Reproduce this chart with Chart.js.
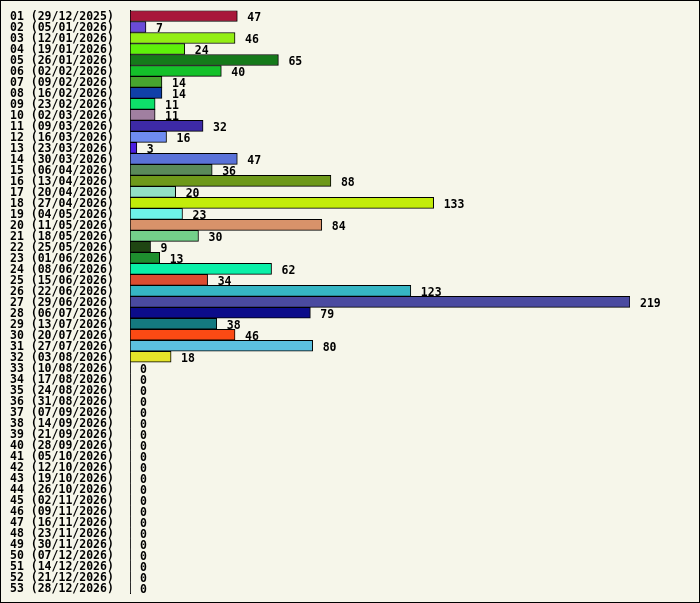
<!DOCTYPE html>
<html>
<head>
<meta charset="utf-8">
<script src="https://cdn.jsdelivr.net/npm/chart.js@4/dist/chart.umd.min.js"></script>
<style>
html,body{margin:0;padding:0;background:#f6f6ea;}
#c{display:block;}
</style>
</head>
<body>
<canvas id="c" width="700" height="603"></canvas>
<script>
const weekLabels = [
"01 (29/12/2025)","02 (05/01/2026)","03 (12/01/2026)","04 (19/01/2026)","05 (26/01/2026)",
"06 (02/02/2026)","07 (09/02/2026)","08 (16/02/2026)","09 (23/02/2026)","10 (02/03/2026)",
"11 (09/03/2026)","12 (16/03/2026)","13 (23/03/2026)","14 (30/03/2026)","15 (06/04/2026)",
"16 (13/04/2026)","17 (20/04/2026)","18 (27/04/2026)","19 (04/05/2026)","20 (11/05/2026)",
"21 (18/05/2026)","22 (25/05/2026)","23 (01/06/2026)","24 (08/06/2026)","25 (15/06/2026)",
"26 (22/06/2026)","27 (29/06/2026)","28 (06/07/2026)","29 (13/07/2026)","30 (20/07/2026)",
"31 (27/07/2026)","32 (03/08/2026)","33 (10/08/2026)","34 (17/08/2026)","35 (24/08/2026)",
"36 (31/08/2026)","37 (07/09/2026)","38 (14/09/2026)","39 (21/09/2026)","40 (28/09/2026)",
"41 (05/10/2026)","42 (12/10/2026)","43 (19/10/2026)","44 (26/10/2026)","45 (02/11/2026)",
"46 (09/11/2026)","47 (16/11/2026)","48 (23/11/2026)","49 (30/11/2026)","50 (07/12/2026)",
"51 (14/12/2026)","52 (21/12/2026)","53 (28/12/2026)"
];
const weekValues = [
47,7,46,24,65,40,14,14,11,11,
32,16,3,47,36,88,20,133,23,84,
30,9,13,62,34,123,219,79,38,46,
80,18,0,0,0,0,0,0,0,0,
0,0,0,0,0,0,0,0,0,0,
0,0,0
];
const barColors = [
"#a8173a","#6a4bd8","#93ee14","#5ef20a","#157a1a","#14c12a","#47a52e","#1040a8","#0ee06a","#a07fa0",
"#3d2aa6","#6f8cf0","#4a1ee0","#5a72d8","#5a8a5a","#6e991a","#92e0c4","#c2ec0a","#6ef2e8","#d8926a",
"#74d08a","#1f4512","#1e8e2e","#0af0a8","#dc4c30","#36b6c4","#4a4aa0","#0c0c8a","#147a80","#fc4a14",
"#5cc0e0","#e4e42a","#888888","#888888","#888888","#888888","#888888","#888888","#888888","#888888",
"#888888","#888888","#888888","#888888","#888888","#888888","#888888","#888888","#888888","#888888",
"#888888","#888888","#888888"
];
const axisMax = 219;

const FONT = {family: "'DejaVu Sans Mono', 'Liberation Mono', monospace", size: 11.5, weight: 'bold'};

const framePlugin = {
  id: 'frame',
  beforeDraw(chart) {
    const ctx = chart.ctx;
    ctx.save();
    ctx.fillStyle = '#f6f6ea';
    ctx.fillRect(0, 0, chart.width, chart.height);
    ctx.strokeStyle = '#000';
    ctx.lineWidth = 1;
    ctx.strokeRect(0.5, 0.5, chart.width - 1, chart.height - 1);
    ctx.restore();
  }
};

const valueLabels = {
  id: 'valueLabels',
  afterDatasetsDraw(chart) {
    const ctx = chart.ctx;
    const meta = chart.getDatasetMeta(0);
    const data = chart.data.datasets[0].data;
    ctx.save();
    ctx.font = `${FONT.weight} ${FONT.size}px ${FONT.family}`;
    ctx.fillStyle = '#000';
    ctx.textAlign = 'left';
    ctx.textBaseline = 'middle';
    meta.data.forEach((el, i) => {
      ctx.fillText(String(data[i]), el.x + 10, el.y + 2);
    });
    ctx.restore();
  }
};

new Chart(document.getElementById('c'), {
  type: 'bar',
  data: {
    labels: weekLabels,
    datasets: [{
      data: weekValues,
      backgroundColor: barColors,
      borderColor: '#000',
      borderWidth: (c) => (c.raw > 0 ? 1 : 0),
      borderSkipped: false,
      categoryPercentage: 1,
      barPercentage: 1
    }]
  },
  options: {
    indexAxis: 'y',
    responsive: false,
    animation: false,
    devicePixelRatio: 1,
    layout: {padding: {left: 10, right: 70, top: 10.5, bottom: 8.5}},
    plugins: {legend: {display: false}, tooltip: {enabled: false}},
    scales: {
      x: {
        display: false,
        min: 0,
        max: axisMax
      },
      y: {
        afterFit(s) { s.width = 120; },
        grid: {display: false},
        border: {display: true, color: '#000', width: 1},
        ticks: {
          autoSkip: false,
          crossAlign: 'far',
          labelOffset: 1.5,
          color: '#000',
          font: FONT
        }
      }
    }
  },
  plugins: [framePlugin, valueLabels]
});
</script>
</body>
</html>
